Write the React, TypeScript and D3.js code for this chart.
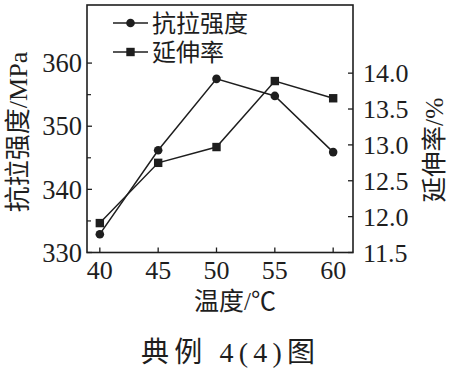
import React from "react";
import * as d3 from "d3";

const temps = [40, 45, 50, 55, 60];
const strength = [332.9, 346.2, 357.5, 354.8, 345.9];
const elongation = [11.91, 12.75, 12.97, 13.89, 13.65];
const xTicks = [40, 45, 50, 55, 60];
const leftTicks = [330, 340, 350, 360];
const leftMinor = [335, 345, 355];
const rightTicks = [11.5, 12.0, 12.5, 13.0, 13.5, 14.0];
const seriesNames = ["抗拉强度", "延伸率"];
const xTitle = "温度/℃";
const yLeftTitle = "抗拉强度/MPa";
const yRightTitle = "延伸率/%";
const caption = "典例 4(4)图";

const W = 453, H = 368;
const L = 87, R = 353, T = 5, B = 252.5;
const ink = "#1e1e1e";
const FONT = "'Liberation Serif', 'Times New Roman', 'Noto Sans CJK SC', serif";

export default function App() {
  const x = d3.scaleLinear().domain([38.9, 61.7]).range([L, R]);
  const yL = d3.scaleLinear().domain([330, 369.2]).range([B, T]);
  const yR = d3.scaleLinear().domain([11.5, 14.95]).range([B, T]);
  const lineS = d3.line<number>().x((_, i) => x(temps[i])).y((d) => yL(d));
  const lineE = d3.line<number>().x((_, i) => x(temps[i])).y((d) => yR(d));
  const tl = 5;
  return (
    <svg width={W} height={H} style={{ position: "absolute", left: 0, top: 0, background: "#fff" }} fontFamily={FONT}>
      <rect x={L} y={T} width={R - L} height={B - T} fill="none" stroke={ink} strokeWidth={1.6} />
      {xTicks.map((t) => (
        <g key={"x" + t}>
          <line x1={x(t)} x2={x(t)} y1={B} y2={B - tl} stroke={ink} strokeWidth={1.3} />
          <text x={x(t)} y={B + 26} textAnchor="middle" fontSize={26} fill={ink}>{t}</text>
        </g>
      ))}
      {leftTicks.map((t) => (
        <g key={"l" + t}>
          <line x1={L} x2={L + tl} y1={yL(t)} y2={yL(t)} stroke={ink} strokeWidth={1.3} />
          <text x={L - 5} y={yL(t)} dy="0.35em" textAnchor="end" fontSize={26.5} fill={ink}>{t}</text>
        </g>
      ))}
      {leftMinor.map((t) => (
        <line key={"lm" + t} x1={L} x2={L + 4} y1={yL(t)} y2={yL(t)} stroke={ink} strokeWidth={1.2} />
      ))}
      {rightTicks.map((t) => (
        <g key={"r" + t}>
          <line x1={R} x2={R - tl} y1={yR(t)} y2={yR(t)} stroke={ink} strokeWidth={1.3} />
          <text x={R + 10} y={yR(t)} dy="0.35em" textAnchor="start" fontSize={26} fill={ink}>{t.toFixed(1)}</text>
        </g>
      ))}
      <path d={lineS(strength) || ""} fill="none" stroke={ink} strokeWidth={1.5} />
      <path d={lineE(elongation) || ""} fill="none" stroke={ink} strokeWidth={1.5} />
      {strength.map((v, i) => (
        <circle key={"c" + i} cx={x(temps[i])} cy={yL(v)} r={4.3} fill={ink} />
      ))}
      {elongation.map((v, i) => (
        <rect key={"s" + i} x={x(temps[i]) - 4.2} y={yR(v) - 4.2} width={8.4} height={8.4} fill={ink} />
      ))}
      {/* legend */}
      <g>
        <line x1={113} x2={148} y1={23} y2={23} stroke={ink} strokeWidth={1.5} />
        <circle cx={130.5} cy={23} r={4.3} fill={ink} />
        <text x={152} y={23} dy="0.36em" fontSize={24} fill={ink}>{seriesNames[0]}</text>
        <line x1={113} x2={148} y1={52} y2={52} stroke={ink} strokeWidth={1.5} />
        <rect x={126.3} y={47.8} width={8.4} height={8.4} fill={ink} />
        <text x={152} y={52} dy="0.36em" fontSize={24} fill={ink}>{seriesNames[1]}</text>
      </g>
      <text transform={`translate(26.5,${132}) rotate(-90)`} textAnchor="middle" fontSize={26} fill={ink}>{yLeftTitle}</text>
      <text transform={`translate(443,${150}) rotate(-90)`} textAnchor="middle" fontSize={25.5} fill={ink}>{yRightTitle}</text>
      <text x={235} y={310} textAnchor="middle" fontSize={25} fill={ink}>{xTitle}</text>
      <text x={141} y={362} fontSize={28} fill={ink} textLength={174} lengthAdjust="spacing">{caption}</text>
    </svg>
  );
}
